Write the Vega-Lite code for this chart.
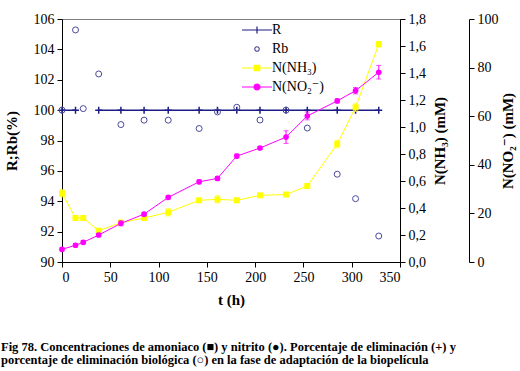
{
  "$schema": "https://vega.github.io/schema/vega-lite/v6.json",
  "width": 338,
  "height": 243,
  "autosize": {"type": "none"},
  "padding": {"left": 62, "top": 19, "right": 120, "bottom": 109},
  "background": "white",
  "config": {
    "font": "Liberation Serif, Times New Roman, DejaVu Serif, serif",
    "view": {"stroke": "#808080", "strokeWidth": 1},
    "axis": {
      "grid": false,
      "domainColor": "black",
      "tickColor": "black",
      "labelColor": "black",
      "titleColor": "black",
      "labelFont": "Liberation Serif, Times New Roman, DejaVu Serif, serif",
      "labelFontSize": 14,
      "titleFont": "Liberation Serif, Times New Roman, DejaVu Serif, serif",
      "titleFontSize": 15,
      "titleFontWeight": "bold",
      "tickSize": 5,
      "labelPadding": 3
    },
    "legend": {
      "labelFont": "Liberation Serif, Times New Roman, DejaVu Serif, serif",
      "labelFontSize": 14,
      "labelColor": "black",
      "title": null,
      "orient": "none",
      "legendX": 188,
      "legendY": 4,
      "symbolSize": 100,
      "symbolOpacity": 1,
      "symbolStrokeWidth": 1.2,
      "labelOffset": 8,
      "rowPadding": 5,
      "padding": 0
    }
  },
  "title": {
    "text": [
      "Fig 78. Concentraciones de amoniaco (■) y nitrito (●). Porcentaje de eliminación (+) y",
      "porcentaje de eliminación biológica (○) en la fase de adaptación de la biopelícula"
    ],
    "orient": "bottom",
    "anchor": "start",
    "font": "Liberation Serif, Times New Roman, DejaVu Serif, serif",
    "fontSize": 12.5,
    "fontWeight": "bold",
    "color": "black",
    "lineHeight": 13,
    "dx": -3,
    "offset": 34
  },
  "data": {
    "values": [
      {"t": 0, "R": 100, "Rb": 100, "NH3": 0.509, "NH3e": 0.027, "NO2": 5.2, "NO2e": 0.7},
      {"t": 14, "R": 100, "Rb": 105.28, "NH3": 0.326, "NH3e": 0.012, "NO2": 6.9, "NO2e": 0.7},
      {"t": 22, "R": null, "Rb": 100.1, "NH3": 0.326, "NH3e": 0.012, "NO2": 8.1, "NO2e": 0.7},
      {"t": 38, "R": 100, "Rb": 102.38, "NH3": 0.232, "NH3e": 0.012, "NO2": 11.1, "NO2e": 0.7},
      {"t": 61, "R": 100, "Rb": 99.05, "NH3": 0.291, "NH3e": 0.02, "NO2": 15.9, "NO2e": 1.0},
      {"t": 85, "R": 100, "Rb": 99.34, "NH3": 0.326, "NH3e": 0.015, "NO2": 19.7, "NO2e": 0.7},
      {"t": 110, "R": 100, "Rb": 99.34, "NH3": 0.368, "NH3e": 0.027, "NO2": 26.6, "NO2e": 0.7},
      {"t": 142, "R": 100, "Rb": 98.79, "NH3": 0.457, "NH3e": 0.012, "NO2": 33.0, "NO2e": 0.8},
      {"t": 161, "R": 100, "Rb": 99.88, "NH3": 0.464, "NH3e": 0.027, "NO2": 34.4, "NO2e": 0.8},
      {"t": 181, "R": 100, "Rb": 100.19, "NH3": 0.457, "NH3e": 0.015, "NO2": 43.6, "NO2e": 0.8},
      {"t": 205, "R": 100, "Rb": 99.35, "NH3": 0.494, "NH3e": 0.012, "NO2": 46.9, "NO2e": 0.6},
      {"t": 232, "R": 100, "Rb": 100.0, "NH3": 0.5, "NH3e": 0.012, "NO2": 51.4, "NO2e": 2.6},
      {"t": 254, "R": 100, "Rb": 98.82, "NH3": 0.563, "NH3e": 0.015, "NO2": 60.1, "NO2e": 1.6},
      {"t": 285, "R": 100, "Rb": 95.78, "NH3": 0.874, "NH3e": 0.028, "NO2": 66.3, "NO2e": 0.8},
      {"t": 304, "R": 100, "Rb": 94.17, "NH3": 1.146, "NH3e": 0.03, "NO2": 70.5, "NO2e": 1.3},
      {"t": 328, "R": 100, "Rb": 91.71, "NH3": 1.613, "NH3e": 0.02, "NO2": 78.1, "NO2e": 2.8}
    ]
  },
  "encoding": {
    "x": {
      "field": "t",
      "type": "quantitative",
      "scale": {"domain": [0, 350], "nice": false},
      "axis": {"values": [0, 50, 100, 150, 200, 250, 300, 350], "title": "t (h)", "titlePadding": 8}
    }
  },
  "layer": [
    {
      "encoding": {
        "y": {
          "type": "quantitative",
          "scale": {"domain": [90, 106], "nice": false},
          "title": "R;Rb(%)",
          "axis": {"orient": "left", "values": [90, 92, 94, 96, 98, 100, 102, 104, 106], "titlePadding": 14}
        }
      },
      "layer": [
        {
          "mark": {"type": "line", "color": "#1c1c85", "strokeWidth": 1.5},
          "encoding": {"y": {"field": "R", "type": "quantitative", "title": "R;Rb(%)"}}
        },
        {
          "mark": {"type": "point", "shape": "M-1,0H1M0,-1V1", "filled": false, "color": "#1c1c85", "size": 49, "strokeWidth": 1.5, "opacity": 1},
          "encoding": {"y": {"field": "R", "type": "quantitative", "title": "R;Rb(%)"}}
        },
        {
          "mark": {"type": "point", "shape": "circle", "filled": false, "color": "#4a4a9c", "size": 36, "strokeWidth": 1, "opacity": 1},
          "encoding": {"y": {"field": "Rb", "type": "quantitative", "title": "R;Rb(%)"}}
        }
      ]
    },
    {
      "encoding": {
        "y": {
          "type": "quantitative",
          "scale": {"domain": [0, 1.8], "nice": false},
          "title": "N(NH₃) (mM)",
          "axis": {
            "orient": "right",
            "values": [0, 0.2, 0.4, 0.6, 0.8, 1.0, 1.2, 1.4, 1.6, 1.8],
            "labelExpr": "replace(format(datum.value, '.1f'), '.', ',')",
            "titleAngle": 270,
            "titlePadding": 22
          }
        }
      },
      "layer": [
        {
          "mark": {"type": "line", "color": "#ffff00", "strokeWidth": 1},
          "encoding": {"y": {"field": "NH3", "type": "quantitative", "title": "N(NH₃) (mM)"}}
        },
        {
          "mark": {"type": "errorbar", "ticks": true, "color": "#ffff00"},
          "encoding": {
            "y": {"field": "NH3", "type": "quantitative", "title": "N(NH₃) (mM)"},
            "yError": {"field": "NH3e"}
          }
        },
        {
          "mark": {"type": "point", "shape": "square", "filled": true, "color": "#ffff00", "size": 36, "opacity": 1},
          "encoding": {"y": {"field": "NH3", "type": "quantitative", "title": "N(NH₃) (mM)"}}
        }
      ]
    },
    {
      "encoding": {
        "y": {
          "type": "quantitative",
          "scale": {"domain": [0, 100], "nice": false},
          "title": "N(NO₂⁻) (mM)",
          "axis": {
            "orient": "right",
            "offset": 69,
            "values": [0, 20, 40, 60, 80, 100],
            "titleAngle": 270,
            "titlePadding": 17
          }
        }
      },
      "layer": [
        {
          "mark": {"type": "line", "color": "#ff00ff", "strokeWidth": 1},
          "encoding": {"y": {"field": "NO2", "type": "quantitative", "title": "N(NO₂⁻) (mM)"}}
        },
        {
          "mark": {"type": "errorbar", "ticks": true, "color": "#ff00ff"},
          "encoding": {
            "y": {"field": "NO2", "type": "quantitative", "title": "N(NO₂⁻) (mM)"},
            "yError": {"field": "NO2e"}
          }
        },
        {
          "mark": {"type": "point", "shape": "circle", "filled": true, "color": "#ff00ff", "size": 32, "opacity": 1},
          "encoding": {"y": {"field": "NO2", "type": "quantitative", "title": "N(NO₂⁻) (mM)"}}
        },
        {
          "mark": {"type": "point", "filled": true, "opacity": 0, "size": 100},
          "encoding": {
            "y": {"field": "NO2", "type": "quantitative", "title": "N(NO₂⁻) (mM)"},
            "shape": {
              "datum": "R",
              "scale": {
                "domain": ["R", "Rb", "N(NH₃)", "N(NO₂⁻)"],
                "range": [
                  "M-3,0H3M0,-0.7V0.7",
                  "M0.45,0A0.45,0.45,0,1,1,-0.45,0A0.45,0.45,0,1,1,0.45,0Z",
                  "M-3,0H3M-0.55,-0.55H0.55V0.55H-0.55Z",
                  "M-3,0H3M0.6,0A0.6,0.6,0,1,1,-0.6,0A0.6,0.6,0,1,1,0.6,0Z"
                ]
              }
            },
            "fill": {
              "datum": "R",
              "scale": {"domain": ["R", "Rb", "N(NH₃)", "N(NO₂⁻)"], "range": ["#1c1c85", "transparent", "#ffff00", "#ff00ff"]}
            },
            "stroke": {
              "datum": "R",
              "scale": {"domain": ["R", "Rb", "N(NH₃)", "N(NO₂⁻)"], "range": ["#1c1c85", "#4a4a9c", "#ffff00", "#ff00ff"]}
            }
          }
        }
      ]
    }
  ],
  "resolve": {"scale": {"y": "independent"}}
}
